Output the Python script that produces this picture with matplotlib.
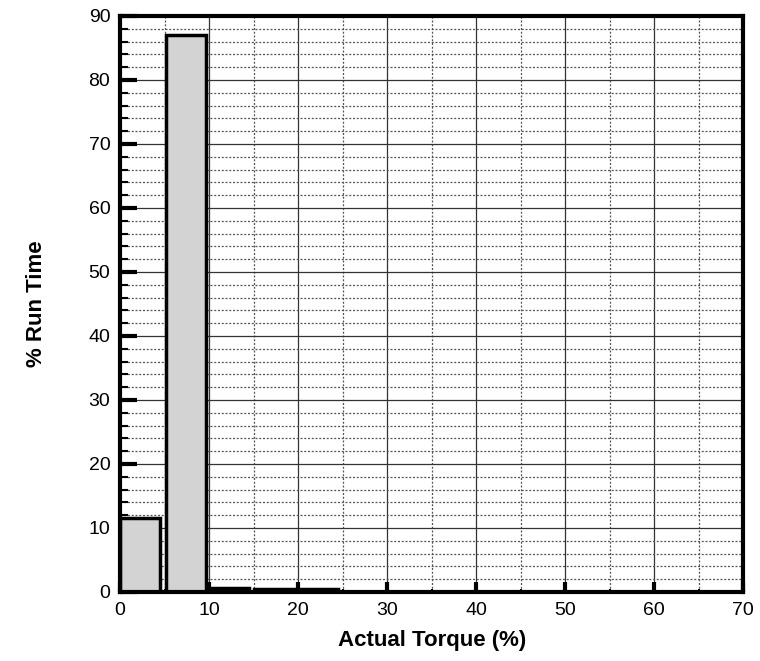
import numpy as np
import matplotlib
matplotlib.use('Agg')
import matplotlib.pyplot as plt
from matplotlib.ticker import MultipleLocator

plt.rcParams['font.family'] = ['Liberation Sans', 'DejaVu Sans']

# Histogram data (bin left edge, % run time)
bin_left = [0.0, 5.2, 10.0, 15.0, 20.0]
run_time = [11.6, 87.1, 0.6, 0.5, 0.5]
bar_width = 4.5

fig = plt.figure(figsize=(7.6, 6.61), dpi=100)
ax = fig.add_axes([0.158, 0.1044, 0.82, 0.8714])

ax.bar(bin_left, run_time, width=bar_width, align='edge',
       color='#d3d3d3', edgecolor='black', linewidth=2.5, zorder=3)

ax.set_xlim(0, 70)
ax.set_ylim(0, 90)
ax.xaxis.set_major_locator(MultipleLocator(10))
ax.xaxis.set_minor_locator(MultipleLocator(5))
ax.yaxis.set_major_locator(MultipleLocator(10))
ax.yaxis.set_minor_locator(MultipleLocator(2))

ax.grid(which='major', color='#333333', linestyle='-', linewidth=0.9, zorder=0)
ax.grid(which='minor', color='#555555', linestyle=(0, (1.6, 1.4)), linewidth=0.9, zorder=0)

ax.tick_params(axis='y', which='major', direction='in', length=12, width=3, labelsize=14, pad=7)
ax.tick_params(axis='y', which='minor', direction='in', length=6, width=1.5)
ax.tick_params(axis='x', which='major', direction='in', length=7, width=3, labelsize=14, pad=7)
ax.tick_params(axis='x', which='minor', direction='in', length=2, width=1.5)
for s in ax.spines.values():
    s.set_linewidth(3)
    s.set_zorder(5)

ax.set_xlabel('Actual Torque (%)', fontsize=16, fontweight='bold', labelpad=8)
ax.set_ylabel('% Run Time', fontsize=16, fontweight='bold', labelpad=30)

plt.savefig('out.png', dpi=100)
